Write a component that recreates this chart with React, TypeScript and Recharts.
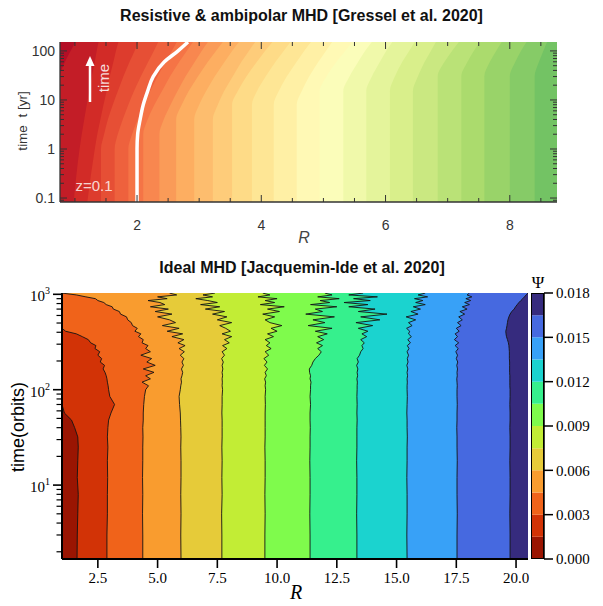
import React from "react";
import {
  ComposedChart,
  Area,
  Line,
  XAxis,
  YAxis,
  CartesianGrid,
  BarChart,
  Bar,
} from "recharts";

const SANS = "'Liberation Sans', Arial, Helvetica, sans-serif";
const SERIF = "'Liberation Serif', 'DejaVu Serif', 'Times New Roman', serif";

// ---- top panel: resistive & ambipolar MHD ----
const TOP_T = [0.083, 1, 2, 4, 8, 15, 30, 60, 100, 152];
const WHITE_LINE = [2.0, 2.0, 2.01, 2.05, 2.1, 2.17, 2.26, 2.44, 2.66, 2.82];
// R of each colour boundary at the times above, left to right
const TOP_CONTOURS = [
  [0.76, 0.76, 0.76, 0.76, 0.76, 0.76, 0.76, 0.84, 0.93, 1.01],
  [0.98, 1.075, 1.11, 1.15, 1.19, 1.23, 1.27, 1.32, 1.35, 1.38],
  [1.2, 1.32, 1.36, 1.41, 1.46, 1.51, 1.56, 1.62, 1.66, 1.7],
  [1.42, 1.42, 1.47, 1.53, 1.61, 1.69, 1.78, 1.88, 1.96, 2.02],
  [1.64, 1.64, 1.69, 1.77, 1.86, 1.95, 2.06, 2.18, 2.27, 2.34],
  [1.86, 1.86, 1.92, 2.01, 2.11, 2.21, 2.33, 2.46, 2.56, 2.64],
  [2.1, 2.1, 2.1, 2.17, 2.28, 2.4, 2.53, 2.68, 2.8, 2.9],
  [2.36, 2.36, 2.36, 2.43, 2.54, 2.65, 2.78, 2.93, 3.04, 3.14],
  [2.63, 2.63, 2.63, 2.63, 2.72, 2.83, 2.98, 3.14, 3.27, 3.38],
  [2.92, 2.92, 2.92, 2.92, 3.0, 3.11, 3.25, 3.41, 3.53, 3.64],
  [3.22, 3.22, 3.22, 3.22, 3.3, 3.4, 3.54, 3.68, 3.8, 3.9],
  [3.53, 3.53, 3.53, 3.53, 3.53, 3.62, 3.76, 3.93, 4.06, 4.18],
  [3.85, 3.85, 3.85, 3.85, 3.85, 3.93, 4.07, 4.23, 4.36, 4.47],
  [4.2, 4.2, 4.2, 4.2, 4.2, 4.28, 4.41, 4.57, 4.69, 4.8],
  [4.57, 4.57, 4.57, 4.57, 4.57, 4.65, 4.77, 4.92, 5.04, 5.14],
  [4.94, 4.94, 4.94, 4.94, 4.94, 4.94, 5.05, 5.21, 5.35, 5.47],
  [5.32, 5.32, 5.32, 5.32, 5.32, 5.32, 5.42, 5.56, 5.67, 5.78],
  [5.69, 5.69, 5.69, 5.69, 5.69, 5.69, 5.78, 5.91, 6.01, 6.11],
  [6.07, 6.07, 6.07, 6.07, 6.07, 6.07, 6.15, 6.27, 6.38, 6.47],
  [6.44, 6.44, 6.44, 6.44, 6.44, 6.44, 6.52, 6.63, 6.73, 6.81],
  [6.84, 6.84, 6.84, 6.84, 6.84, 6.84, 6.84, 6.95, 7.07, 7.18],
  [7.22, 7.22, 7.22, 7.22, 7.22, 7.22, 7.22, 7.32, 7.42, 7.52],
  [7.59, 7.59, 7.59, 7.59, 7.59, 7.59, 7.59, 7.68, 7.78, 7.87],
  [8.0, 8.0, 8.0, 8.0, 8.0, 8.0, 8.0, 8.09, 8.18, 8.27],
  [8.4, 8.4, 8.4, 8.4, 8.4, 8.4, 8.4, 8.47, 8.54, 8.6],
];
const TOP_R_DOMAIN = [0.76, 8.76];
const TOP_T_DOMAIN = [0.083, 152];
const TOP_T_TICKS = [0.09, 0.1, 0.2, 0.3, 0.4, 0.5, 0.6, 0.7, 0.8, 0.9, 1, 2, 3, 4, 5, 6, 7, 8, 9, 10, 20, 30, 40, 50, 60, 70, 80, 90, 100];
const TOP_T_MAJOR = [0.1, 1, 10, 100];
const TOP_R_TICKS = [1, 1.5, 2, 2.5, 3, 3.5, 4, 4.5, 5, 5.5, 6, 6.5, 7, 7.5, 8, 8.5];
const TOP_R_MAJOR = [2, 4, 6, 8];

// ---- bottom panel: ideal MHD ----
const BOT_T = [
  1.68, 3, 5, 8, 12, 18, 25, 32, 40, 48, 57, 70, 85, 100,
  110, 120, 130, 140, 152, 165, 180, 195, 212, 230, 250, 270, 290, 310, 335, 360, 385, 410,
  440, 470, 505, 540, 580, 620, 660, 700, 740, 780, 820, 860, 900, 940, 985, 1030,
];
// R of each psi contour (0.0015 ... 0.0165) at the times above
const BOT_CONTOURS = [
  [1.63, 1.64, 1.66, 1.68, 1.64, 1.66, 1.68, 1.66, 1.53, 1.4, 1.1, 1, 1, 1,
    1, 1, 1, 1, 1, 1, 1, 1, 1, 1, 1, 1, 1, 1, 1, 1, 1, 1,
    1, 1, 1, 1, 1, 1, 1, 1, 1, 1, 1, 1, 1, 1, 1, 1],
  [2.88, 2.88, 2.9, 2.9, 2.91, 2.9, 2.92, 2.9, 2.92, 2.95, 3.05, 3.2, 3.0, 2.95,
    2.93, 2.9, 2.88, 2.85, 2.8, 2.72, 2.78, 2.6, 2.66, 2.5, 2.58, 2.38, 2.42, 2.2, 2.1, 1.85, 1.6, 1.15,
    1, 1, 1, 1, 1, 1, 1, 1, 1, 1, 1, 1, 1, 1, 1, 1],
  [4.38, 4.38, 4.37, 4.38, 4.37, 4.38, 4.38, 4.39, 4.38, 4.4, 4.4, 4.42, 4.45, 4.5,
    4.62, 4.35, 4.7, 4.5, 4.85, 4.4, 4.9, 4.55, 4.75, 4.3, 4.7, 4.5, 4.6, 4.35, 4.4, 4.2, 4.3, 4.05,
    4.15, 3.95, 3.9, 3.75, 3.7, 3.45, 3.4, 3.15, 3.1, 2.85, 2.75, 2.5, 2.4, 2.0, 1.6, 1.0],
  [5.98, 5.97, 5.98, 5.97, 5.98, 5.98, 5.97, 5.98, 5.97, 5.96, 5.95, 5.92, 5.9, 5.95,
    5.97, 6.0, 5.98, 6.02, 6.05, 6.0, 6.08, 6.02, 6.1, 5.95, 6.12, 5.9, 6.15, 5.85, 6.1, 5.6, 6.05, 5.4,
    5.9, 5.2, 5.75, 5.5, 5.0, 5.6, 4.9, 5.45, 4.7, 5.3, 5.1, 4.6, 5.4, 5.0, 5.8, 5.5],
  [7.69, 7.69, 7.68, 7.7, 7.69, 7.7, 7.69, 7.7, 7.7, 7.7, 7.69, 7.7, 7.7, 7.72,
    7.7, 7.71, 7.7, 7.72, 7.7, 7.73, 7.7, 7.75, 7.68, 7.8, 7.7, 7.9, 7.72, 8.0, 7.8, 8.1, 7.7, 8.05,
    7.85, 7.6, 8.1, 7.5, 7.9, 7.3, 7.8, 7.0, 7.6, 6.8, 7.5, 7.1, 6.6, 7.3, 6.9, 7.4],
  [9.49, 9.49, 9.5, 9.49, 9.5, 9.5, 9.49, 9.5, 9.5, 9.5, 9.5, 9.51, 9.5, 9.52,
    9.5, 9.52, 9.48, 9.55, 9.5, 9.6, 9.47, 9.58, 9.45, 9.65, 9.5, 9.75, 9.55, 9.7, 9.5, 9.85, 9.6, 10.0,
    9.75, 10.2, 9.7, 9.5, 9.9, 9.4, 10.1, 9.6, 10.3, 9.3, 9.9, 9.5, 10.0, 9.2, 9.7, 9.4],
  [11.38, 11.38, 11.37, 11.38, 11.38, 11.37, 11.38, 11.38, 11.39, 11.38, 11.38, 11.4, 11.38, 11.4,
    11.4, 11.42, 11.38, 11.4, 11.36, 11.35, 11.45, 11.5, 11.6, 11.75, 11.85, 11.7, 11.9, 11.65, 11.95, 11.7, 12.1, 11.6,
    12.3, 11.3, 12.0, 11.5, 12.4, 11.2, 11.9, 11.6, 12.5, 11.4, 12.2, 11.8, 12.6, 11.7, 12.3, 12.0],
  [13.34, 13.34, 13.33, 13.34, 13.34, 13.33, 13.34, 13.34, 13.34, 13.35, 13.34, 13.35, 13.34, 13.35,
    13.35, 13.36, 13.34, 13.37, 13.35, 13.38, 13.33, 13.4, 13.35, 13.45, 13.5, 13.6, 13.55, 13.65, 13.5, 13.75, 13.55, 13.8,
    13.4, 14.0, 13.3, 14.3, 13.5, 14.6, 13.4, 14.1, 13.0, 13.8, 12.8, 13.9, 13.2, 14.2, 13.0, 13.6],
  [15.44, 15.43, 15.44, 15.44, 15.43, 15.44, 15.44, 15.45, 15.44, 15.44, 15.43, 15.44, 15.45, 15.44,
    15.44, 15.45, 15.44, 15.46, 15.44, 15.47, 15.43, 15.48, 15.45, 15.5, 15.44, 15.52, 15.45, 15.58, 15.47, 15.62, 15.5, 15.55,
    15.42, 15.65, 15.5, 15.8, 15.4, 15.9, 15.6, 16.0, 15.7, 16.2, 15.8, 16.1, 15.75, 16.3, 15.9, 16.2],
  [17.53, 17.53, 17.54, 17.53, 17.53, 17.54, 17.53, 17.53, 17.52, 17.53, 17.53, 17.54, 17.53, 17.53,
    17.54, 17.53, 17.52, 17.54, 17.53, 17.55, 17.52, 17.56, 17.5, 17.55, 17.48, 17.58, 17.45, 17.6, 17.42, 17.55, 17.45, 17.62,
    17.5, 17.7, 17.55, 17.75, 17.6, 17.85, 17.65, 17.95, 17.75, 18.05, 17.85, 18.1, 17.9, 18.15, 17.95, 18.05],
  [19.75, 19.75, 19.74, 19.75, 19.75, 19.74, 19.75, 19.75, 19.74, 19.75, 19.75, 19.74, 19.75, 19.75,
    19.74, 19.74, 19.74, 19.74, 19.73, 19.73, 19.73, 19.73, 19.72, 19.72, 19.72, 19.71, 19.7, 19.68, 19.64, 19.6, 19.58, 19.57,
    19.6, 19.62, 19.64, 19.66, 19.7, 19.75, 19.82, 19.92, 19.98, 20.05, 20.12, 20.2, 20.28, 20.35, 20.42, 20.5],
];
const BOT_R_DOMAIN = [1, 20.5];
const BOT_T_DOMAIN = [1.68, 1032];
const BOT_T_TICKS = [2, 3, 4, 5, 6, 7, 8, 9, 10, 20, 30, 40, 50, 60, 70, 80, 90, 100, 200, 300, 400, 500, 600, 700, 800, 900, 1000];
const BOT_T_MAJOR = [10, 100, 1000];
const BOT_R_TICKS = [2.5, 5, 7.5, 10, 12.5, 15, 17.5, 20];
const PSI_LEVELS = [0, 0.0015, 0.003, 0.0045, 0.006, 0.0075, 0.009, 0.0105, 0.012, 0.0135, 0.015, 0.0165, 0.018];
const PSI_TICKS = [0, 0.003, 0.006, 0.009, 0.012, 0.015, 0.018];

// reversed turbo-like palette of the colorbar (low psi -> high psi)
const BOT_COLORS = [
  "#9a1502", "#d23306", "#f0631a", "#f99c2f", "#e6cb39", "#c2ed35",
  "#7ffb4c", "#36f08d", "#1bd3cf", "#38a1f7", "#4669e0", "#362b7e",
];

const RDYLGN = ["#a50026", "#d73027", "#f46d43", "#fdae61", "#fee08b", "#ffffbf", "#d9ef8b", "#a6d96a", "#66bd63", "#1a9850", "#006837"];

function hexToRgb(h: string) {
  return [1, 3, 5].map((i) => parseInt(h.slice(i, i + 2), 16));
}

function rdylgn(p: number) {
  const x = Math.max(0, Math.min(1, p)) * 10;
  const i = Math.min(9, Math.floor(x));
  const f = x - i;
  const a = hexToRgb(RDYLGN[i]);
  const b = hexToRgb(RDYLGN[i + 1]);
  const c = a.map((v, k) => Math.round(v + (b[k] - v) * f));
  return `rgb(${c[0]},${c[1]},${c[2]})`;
}

const TOP_COLORS = Array.from({ length: TOP_CONTOURS.length + 1 }, (_, k) => rdylgn(0.03 + 0.03 * k));

// plot boxes (chart-local pixels)
const TP = { left: 60, right: 557, top: 42, bottom: 202 };
const BP = { left: 62, right: 528, top: 43, bottom: 309 };

function TopYTick({ y, payload }: any) {
  const v = payload.value;
  const major = TOP_T_MAJOR.includes(v);
  const len = major ? 7 : 4;
  return (
    <g>
      <line x1={TP.left} x2={TP.left + len} y1={y} y2={y} stroke="#333" />
      <line x1={TP.right - len} x2={TP.right} y1={y} y2={y} stroke="#333" />
      {major && (
        <text x={TP.left - 5} y={y + 5} textAnchor="end" fontSize={14} fontFamily={SANS} fill="#333">
          {String(v)}
        </text>
      )}
    </g>
  );
}

function TopXTick({ x, payload }: any) {
  const v = payload.value;
  const major = TOP_R_MAJOR.includes(v);
  const len = major ? 7 : 4;
  return (
    <g>
      <line x1={x} x2={x} y1={TP.bottom} y2={TP.bottom - len} stroke="#333" />
      <line x1={x} x2={x} y1={TP.top} y2={TP.top + len} stroke="#333" />
      {major && (
        <text x={x} y={TP.bottom + 28} textAnchor="middle" fontSize={14} fontFamily={SANS} fill="#333">
          {String(v)}
        </text>
      )}
    </g>
  );
}

function BotYTick({ y, payload }: any) {
  const v = payload.value;
  const major = BOT_T_MAJOR.includes(v);
  const len = major ? 9 : 5.5;
  return (
    <g>
      <line x1={BP.left - len} x2={BP.left} y1={y} y2={y} stroke="#000" strokeWidth={major ? 1.6 : 1.2} />
      {major && (
        <text x={BP.left - 12} y={y + 7} textAnchor="end" fontFamily={SERIF} fontSize={15} fill="#000">
          10
          <tspan dy={-7} fontSize={10}>
            {Math.round(Math.log10(v))}
          </tspan>
        </text>
      )}
    </g>
  );
}

function BotXTick({ x, payload }: any) {
  return (
    <g>
      <line x1={x} x2={x} y1={BP.bottom} y2={BP.bottom + 9} stroke="#000" strokeWidth={1.6} />
      <text x={x} y={BP.bottom + 24} textAnchor="middle" fontFamily={SERIF} fontSize={15} fill="#000">
        {payload.value.toFixed(1)}
      </text>
    </g>
  );
}

export default function App() {
  const topData = TOP_T.map((t, i) => {
    const row: Record<string, number> = { t, white: WHITE_LINE[i] };
    TOP_CONTOURS.forEach((c, k) => (row[`c${k}`] = c[i]));
    return row;
  });
  const botData = BOT_T.map((t, i) => {
    const row: Record<string, number> = { t };
    BOT_CONTOURS.forEach((c, k) => (row[`c${k}`] = c[i]));
    return row;
  });
  const cbRow: Record<string, number | string> = { name: "psi" };
  BOT_COLORS.forEach((_, i) => (cbRow[`s${i}`] = PSI_LEVELS[i + 1] - PSI_LEVELS[i]));

  const topOrder = TOP_CONTOURS.map((_, k) => TOP_CONTOURS.length - 1 - k);
  const botOrder = BOT_CONTOURS.map((_, k) => BOT_CONTOURS.length - 1 - k);

  return (
    <div style={{ position: "absolute", left: 0, top: 0, width: 603, height: 606, background: "#fff" }}>
      <div style={{ position: "absolute", left: 0, top: 0 }}>
        <ComposedChart
          width={603}
          height={250}
          data={topData}
          layout="vertical"
          margin={{ top: 42, right: 46, bottom: 0, left: 0 }}
        >
          <CartesianGrid horizontal={false} vertical={false} fill={TOP_COLORS[TOP_CONTOURS.length]} />
          {topOrder.map((k) => (
            <Area
              key={k}
              type="monotone"
              dataKey={`c${k}`}
              baseValue="dataMin"
              fill={TOP_COLORS[k]}
              fillOpacity={1}
              stroke="none"
              dot={false}
              activeDot={false}
              isAnimationActive={false}
            />
          ))}
          <Line
            type="monotone"
            dataKey="white"
            stroke="#ffffff"
            strokeWidth={3.5}
            dot={false}
            activeDot={false}
            isAnimationActive={false}
          />
          <XAxis
            type="number"
            domain={TOP_R_DOMAIN}
            allowDataOverflow
            ticks={TOP_R_TICKS}
            interval={0}
            height={48}
            tickSize={0}
            tickMargin={0}
            tickLine={false}
            axisLine={{ stroke: "#333", strokeWidth: 1.3 }}
            tick={(p: any) => <TopXTick {...p} />}
          />
          <YAxis
            type="number"
            dataKey="t"
            scale="log"
            reversed
            domain={TOP_T_DOMAIN}
            allowDataOverflow
            ticks={TOP_T_TICKS}
            interval={0}
            width={60}
            tickSize={0}
            tickMargin={0}
            tickLine={false}
            axisLine={{ stroke: "#333", strokeWidth: 1.3 }}
            tick={(p: any) => <TopYTick {...p} />}
          />
          <XAxis
            xAxisId="top"
            orientation="top"
            type="number"
            domain={TOP_R_DOMAIN}
            allowDataOverflow
            height={0}
            tick={false}
            tickLine={false}
            axisLine={{ stroke: "#333", strokeWidth: 1.3 }}
          />
          <YAxis
            yAxisId="right"
            orientation="right"
            type="number"
            scale="log"
            reversed
            domain={TOP_T_DOMAIN}
            allowDataOverflow
            width={0}
            tick={false}
            tickLine={false}
            axisLine={{ stroke: "#333", strokeWidth: 1.3 }}
          />
        </ComposedChart>
      </div>

      <div style={{ position: "absolute", left: 0, top: 250 }}>
        <ComposedChart
          width={603}
          height={356}
          data={botData}
          layout="vertical"
          margin={{ top: 43, right: 75, bottom: 0, left: 0 }}
        >
          <CartesianGrid horizontal={false} vertical={false} fill={BOT_COLORS[BOT_CONTOURS.length]} />
          {botOrder.map((k) => (
            <Area
              key={k}
              type="linear"
              dataKey={`c${k}`}
              baseValue="dataMin"
              fill={BOT_COLORS[k]}
              fillOpacity={1}
              stroke="#141414"
              strokeWidth={0.9}
              dot={false}
              activeDot={false}
              isAnimationActive={false}
            />
          ))}
          <XAxis
            type="number"
            domain={BOT_R_DOMAIN}
            allowDataOverflow
            ticks={BOT_R_TICKS}
            interval={0}
            height={47}
            tickSize={0}
            tickMargin={0}
            tickLine={false}
            axisLine={{ stroke: "#000", strokeWidth: 2 }}
            tick={(p: any) => <BotXTick {...p} />}
          />
          <YAxis
            type="number"
            dataKey="t"
            scale="log"
            reversed
            domain={BOT_T_DOMAIN}
            allowDataOverflow
            ticks={BOT_T_TICKS}
            interval={0}
            width={62}
            tickSize={0}
            tickMargin={0}
            tickLine={false}
            axisLine={{ stroke: "#000", strokeWidth: 2 }}
            tick={(p: any) => <BotYTick {...p} />}
          />
          <XAxis
            xAxisId="top"
            orientation="top"
            type="number"
            domain={BOT_R_DOMAIN}
            allowDataOverflow
            height={0}
            tick={false}
            tickLine={false}
            axisLine={{ stroke: "#000", strokeWidth: 2.5 }}
          />
        </ComposedChart>
      </div>

      <div style={{ position: "absolute", left: 531, top: 283 }}>
        <BarChart
          width={72}
          height={286}
          data={[cbRow]}
          margin={{ top: 10, right: 0, bottom: 10, left: 0 }}
          barCategoryGap={0}
        >
          <XAxis dataKey="name" hide />
          <YAxis
            orientation="right"
            type="number"
            domain={[0, 0.018]}
            allowDataOverflow
            ticks={PSI_TICKS}
            interval={0}
            width={59}
            tickSize={9}
            tickMargin={3}
            tickFormatter={(v: number) => v.toFixed(3)}
            tick={{ fontSize: 15, fill: "#000", fontFamily: SERIF }}
            tickLine={{ stroke: "#000", strokeWidth: 1.5 }}
            axisLine={{ stroke: "#000", strokeWidth: 1.5 }}
          />
          {BOT_COLORS.map((c, i) => (
            <Bar key={i} dataKey={`s${i}`} stackId="cb" fill={c} isAnimationActive={false} />
          ))}
        </BarChart>
      </div>
      <div
        style={{
          position: "absolute",
          left: 531,
          top: 293,
          width: 13,
          height: 266,
          border: "1px solid #000",
          boxSizing: "border-box",
          pointerEvents: "none",
        }}
      />

      <svg width={603} height={606} style={{ position: "absolute", left: 0, top: 0, pointerEvents: "none" }}>
        <text x={301.5} y={20.5} textAnchor="middle" fontFamily={SANS} fontWeight="bold" fontSize={16} fill="#111">
          Resistive &amp; ambipolar MHD [Gressel et al. 2020]
        </text>
        <text x={302} y={272.5} textAnchor="middle" fontFamily={SANS} fontWeight="bold" fontSize={16} fill="#111">
          Ideal MHD [Jacquemin-Ide et al. 2020]
        </text>
        <text
          transform="translate(27,121) rotate(-90)"
          textAnchor="middle"
          fontFamily={SANS}
          fontSize={13.5}
          fill="#333"
          style={{ whiteSpace: "pre" }}
        >
          {"time  t [yr]"}
        </text>
        <text x={304} y={243} textAnchor="middle" fontFamily={SANS} fontStyle="italic" fontSize={16} fill="#444">
          R
        </text>
        <line x1={90} y1={102} x2={90} y2={64} stroke="#fff" strokeWidth={2.5} />
        <polygon points="85.5,66 94.5,66 90,56" fill="#fff" />
        <text
          transform="translate(109,78) rotate(-90)"
          textAnchor="middle"
          fontFamily={SANS}
          fontSize={15}
          fill="rgba(255,255,255,0.85)"
        >
          time
        </text>
        <text x={94} y={191} textAnchor="middle" fontFamily={SANS} fontSize={15} fill="rgba(255,255,255,0.8)">
          z=0.1
        </text>
        <text
          transform="translate(24,427) rotate(-90)"
          textAnchor="middle"
          fontFamily={SANS}
          fontSize={18}
          fill="#000"
        >
          time(orbits)
        </text>
        <text x={296} y={599} textAnchor="middle" fontFamily={SERIF} fontStyle="italic" fontSize={20} fill="#000">
          R
        </text>
        <text x={538} y={288} textAnchor="middle" fontFamily={SERIF} fontSize={17} fill="#000">
          Ψ
        </text>
      </svg>
    </div>
  );
}
